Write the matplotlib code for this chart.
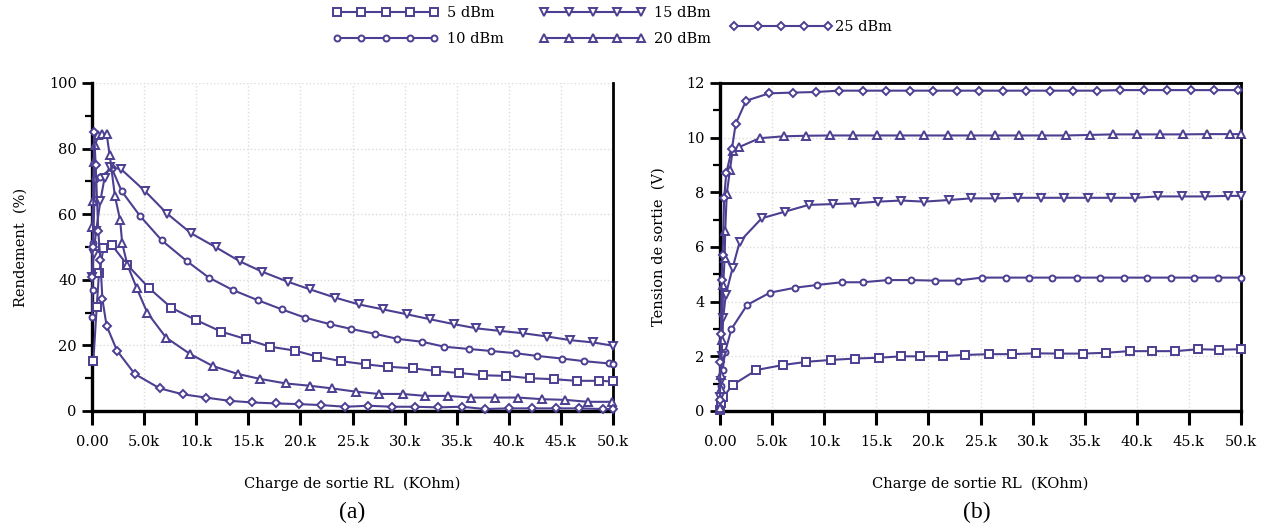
import matplotlib
matplotlib.use("Agg")
import matplotlib.pyplot as plt
from matplotlib.ticker import MultipleLocator, FixedLocator

# ---------------- data (x in kOhm) ----------------
eff_5_x = [0.13, 0.45, 0.67, 1.1, 1.9, 3.4, 5.5, 7.6, 10.0, 12.4, 14.8, 17.1, 19.5, 21.6, 23.9, 26.3,
           28.4, 30.8, 33.0, 35.2, 37.5, 39.7, 42.0, 44.3, 46.5, 48.7, 50.0]
eff_5_y = [15.2, 31.6, 42.0, 49.6, 50.6, 44.5, 37.4, 31.5, 27.7, 24.2, 21.9, 19.6, 18.4, 16.6, 15.2, 14.2,
           13.5, 13.0, 12.2, 11.6, 10.9, 10.7, 10.0, 9.7, 9.2, 9.2, 9.0]

eff_10_x = [0.02, 0.05, 0.1, 0.3, 0.8, 1.9, 2.85, 4.6, 6.7, 9.1, 11.2, 13.5, 15.9, 18.2, 20.4, 22.8, 24.9,
            27.2, 29.3, 31.7, 33.8, 36.2, 38.3, 40.7, 42.7, 45.1, 47.2, 49.6, 50.0]
eff_10_y = [28.8, 36.9, 51.2, 70.7, 71.4, 74.0, 67.0, 59.5, 52.0, 45.7, 40.7, 36.9, 33.8, 31.0, 28.5, 26.5, 25.0,
            23.5, 22.0, 21.1, 19.6, 18.9, 18.3, 17.6, 16.8, 16.0, 15.2, 14.5, 14.4]

eff_15_x = [0.02, 0.15, 0.4, 0.8, 1.2, 1.7, 2.8, 5.1, 7.2, 9.5, 11.9, 14.2, 16.3, 18.8, 20.9, 23.3, 25.6,
            27.9, 30.2, 32.4, 34.7, 36.9, 39.2, 41.4, 43.7, 45.9, 48.1, 50.0]
eff_15_y = [41.0, 48.0, 55.0, 64.0, 71.0, 74.4, 73.7, 67.0, 60.2, 54.2, 49.9, 45.6, 42.5, 39.4, 37.1, 34.6, 32.5,
            31.0, 29.5, 28.0, 26.5, 25.2, 24.4, 23.7, 22.7, 21.6, 20.9, 19.9]

eff_20_x = [0.03, 0.1, 0.2, 0.3, 0.6, 1.0, 1.4, 1.7, 2.2, 2.7, 2.9, 3.4, 4.3, 5.3, 7.1, 9.4, 11.6, 14.0, 16.1,
            18.6, 20.9, 23.0, 25.3, 27.5, 29.8, 32.0, 34.2, 36.4, 38.7, 40.9, 43.2, 45.4, 47.6, 49.9]
eff_20_y = [56.0, 64.0, 76.0, 81.0, 84.0, 84.5, 84.5, 78.0, 65.5, 58.2, 51.1, 44.5, 37.4, 30.0, 22.4, 17.4, 13.7,
            11.3, 9.8, 8.4, 7.7, 6.9, 5.9, 5.2, 5.2, 4.6, 4.6, 4.1, 4.1, 4.1, 3.6, 3.4, 2.8, 2.8]

eff_25_x = [0.02, 0.08, 0.2, 0.35, 0.6, 0.8, 1.0, 1.4, 2.4, 4.1, 6.5, 8.7, 10.9, 13.2, 15.4, 17.7, 19.9, 22.0,
            24.3, 26.5, 28.8, 31.0, 33.2, 35.5, 37.7, 40.0, 42.2, 44.5, 46.7, 49.0, 50.0]
eff_25_y = [41.0, 50.0, 85.0, 75.0, 55.0, 46.0, 34.0, 26.0, 18.4, 11.3, 6.9, 5.1, 4.1, 3.1, 2.6, 2.3, 2.1, 1.8,
            1.3, 1.6, 1.3, 1.3, 1.1, 1.3, 0.6, 0.8, 0.8, 0.8, 0.8, 0.6, 0.6]

v_5_x = [0.0, 0.1, 0.3, 1.2, 3.5, 6.0, 8.3, 10.7, 13.0, 15.3, 17.4, 19.2, 21.4, 23.5, 25.8, 28.0, 30.3,
         32.5, 34.8, 37.0, 39.3, 41.5, 43.7, 45.9, 47.9, 50.0]
v_5_y = [0.03, 0.3, 0.5, 0.95, 1.5, 1.68, 1.8, 1.87, 1.92, 1.95, 2.0, 2.0, 2.01, 2.05, 2.08, 2.08, 2.11,
         2.1, 2.1, 2.13, 2.19, 2.19, 2.19, 2.26, 2.24, 2.26]

v_10_x = [0.0, 0.1, 0.25, 0.5, 1.1, 2.6, 4.8, 7.2, 9.3, 11.7, 13.7, 16.1, 18.3, 20.6, 22.8, 25.1, 27.4,
          29.7, 31.9, 34.3, 36.5, 38.8, 41.0, 43.3, 45.5, 47.8, 50.0]
v_10_y = [0.1, 0.9, 1.5, 2.17, 3.0, 3.88, 4.33, 4.51, 4.61, 4.71, 4.71, 4.79, 4.79, 4.77, 4.77, 4.88, 4.88,
          4.88, 4.88, 4.88, 4.88, 4.88, 4.88, 4.88, 4.88, 4.88, 4.88]

v_15_x = [0.0, 0.05, 0.15, 0.3, 0.55, 1.2, 1.9, 4.0, 6.2, 8.5, 10.8, 13.0, 15.2, 17.4, 19.6, 22.0, 24.1,
          26.4, 28.6, 30.8, 33.0, 35.3, 37.5, 39.8, 42.0, 44.3, 46.5, 48.8, 50.0]
v_15_y = [0.5, 1.1, 2.0, 3.39, 4.24, 5.22, 6.2, 7.05, 7.29, 7.54, 7.57, 7.6, 7.66, 7.7, 7.66, 7.72, 7.78,
          7.78, 7.8, 7.8, 7.8, 7.8, 7.8, 7.8, 7.85, 7.85, 7.85, 7.87, 7.87]

v_20_x = [0.0, 0.05, 0.1, 0.2, 0.3, 0.45, 0.5, 0.65, 0.95, 1.2, 1.8, 3.8, 6.1, 8.3, 10.6, 12.8, 15.1, 17.3,
          19.6, 21.9, 24.1, 26.4, 28.7, 30.9, 33.2, 35.5, 37.7, 40.0, 42.2, 44.4, 46.7, 48.9, 50.0]
v_20_y = [0.1, 0.8, 1.3, 2.6, 4.6, 5.6, 6.6, 7.95, 8.8, 9.5, 9.65, 9.98, 10.05, 10.07, 10.08, 10.08, 10.08,
          10.08, 10.08, 10.08, 10.08, 10.08, 10.08, 10.08, 10.08, 10.1, 10.12, 10.12, 10.12, 10.12, 10.13, 10.13, 10.13]

v_25_x = [0.0, 0.03, 0.08, 0.15, 0.25, 0.4, 0.6, 1.15, 1.5, 2.5, 4.7, 7.0, 9.2, 11.4, 13.7, 15.9, 18.2, 20.4,
          22.7, 24.9, 27.2, 29.4, 31.7, 33.9, 36.2, 38.4, 40.7, 42.9, 45.2, 47.4, 49.7]
v_25_y = [0.4, 1.8, 2.8, 4.8, 5.7, 7.8, 8.7, 9.6, 10.5, 11.35, 11.62, 11.65, 11.67, 11.72, 11.72, 11.72, 11.72,
          11.72, 11.72, 11.72, 11.72, 11.72, 11.72, 11.72, 11.72, 11.74, 11.74, 11.74, 11.74, 11.74, 11.74]

series_labels = ["5 dBm", "10 dBm", "15 dBm", "20 dBm", "25 dBm"]
series_markers = ["s", "o", "v", "^", "D"]
x_tick_values = [0, 5, 10, 15, 20, 25, 30, 35, 40, 45, 50]
x_tick_labels = ["0.00", "5.0k", "10.k", "15.k", "20.k", "25.k", "30.k", "35.k", "40.k", "45.k", "50.k"]

eff_data = [(eff_5_x, eff_5_y), (eff_10_x, eff_10_y), (eff_15_x, eff_15_y), (eff_20_x, eff_20_y), (eff_25_x, eff_25_y)]
v_data = [(v_5_x, v_5_y), (v_10_x, v_10_y), (v_15_x, v_15_y), (v_20_x, v_20_y), (v_25_x, v_25_y)]

# ---------------- style ----------------
COLOR = "#4B3F91"
plt.rcParams['font.family'] = ['DejaVu Serif']
W, H = 1270, 527
fig = plt.figure(figsize=(W / 100, H / 100), dpi=100)

def fx(px):
    return px / W

def fy(py):
    return 1 - py / H

ax_a = fig.add_axes([fx(92), fy(411), fx(613) - fx(92), fy(83) - fy(411)])
ax_b = fig.add_axes([fx(720), fy(411), fx(1241) - fx(720), fy(83) - fy(411)])

msizes = {"s": 5.2, "o": 4.3, "v": 5.2, "^": 5.2, "D": 4.3}

handles = []
for ax, data in ((ax_a, eff_data), (ax_b, v_data)):
    for (xs, ys), lab, mk in zip(data, series_labels, series_markers):
        ln, = ax.plot(xs, ys, color=COLOR, lw=1.5, marker=mk, ms=msizes[mk],
                      mfc="white", mec=COLOR, mew=1.4, label=lab, clip_on=False, zorder=3)
        if ax is ax_a:
            handles.append(ln)

def style(ax, ymax, ymajor, yminor, ylabel, top_spine):
    ax.set_xlim(0, 50)
    ax.set_ylim(0, ymax)
    ax.xaxis.set_major_locator(FixedLocator(x_tick_values))
    ax.set_xticklabels(x_tick_labels)
    ax.yaxis.set_major_locator(MultipleLocator(ymajor))
    ax.yaxis.set_minor_locator(MultipleLocator(yminor))
    ax.tick_params(axis='x', direction='out', length=10, width=2.2, pad=7, labelsize=10.5)
    ax.tick_params(axis='y', which='major', direction='out', length=7, width=2.0, pad=4, labelsize=10.5)
    ax.tick_params(axis='y', which='minor', direction='out', length=5, width=1.6)
    ax.grid(True, which='major', color='#dcdcdc', linestyle=':', linewidth=1.0, zorder=0)
    for s in ("left", "bottom"):
        ax.spines[s].set_linewidth(2.4)
    ax.spines["right"].set_linewidth(2.0)
    ax.spines["top"].set_linewidth(2.0)
    ax.spines["top"].set_visible(top_spine)
    ax.set_xlabel("Charge de sortie RL  (KOhm)", fontsize=10.5, labelpad=20)
    ax.set_ylabel(ylabel, fontsize=10.5, labelpad=15)
    ax.set_axisbelow(True)

style(ax_a, 100, 20, 10, "Rendement  (%)", False)
style(ax_b, 12, 2, 1, "Tension de sortie  (V)", True)

fig.text(fx(352), fy(512), "(a)", ha="center", va="center", fontsize=17, family="Liberation Serif")
fig.text(fx(977), fy(512), "(b)", ha="center", va="center", fontsize=17, family="Liberation Serif")

leg1 = fig.legend(handles[:4], series_labels[:4], ncol=2, loc="upper left",
                  bbox_to_anchor=(fx(333), fy(6)), bbox_transform=fig.transFigure,
                  frameon=False, numpoints=5, handlelength=7.2, handletextpad=0.6,
                  columnspacing=2.5, labelspacing=0.8, borderpad=0, borderaxespad=0,
                  fontsize=10.5)
leg2 = fig.legend([handles[4]], [series_labels[4]], loc="upper left",
                  bbox_to_anchor=(fx(730), fy(20)), bbox_transform=fig.transFigure,
                  frameon=False, numpoints=5, handlelength=7.0, handletextpad=0.2,
                  borderpad=0, borderaxespad=0, fontsize=10.5)

fig.savefig("out.png", dpi=100)
